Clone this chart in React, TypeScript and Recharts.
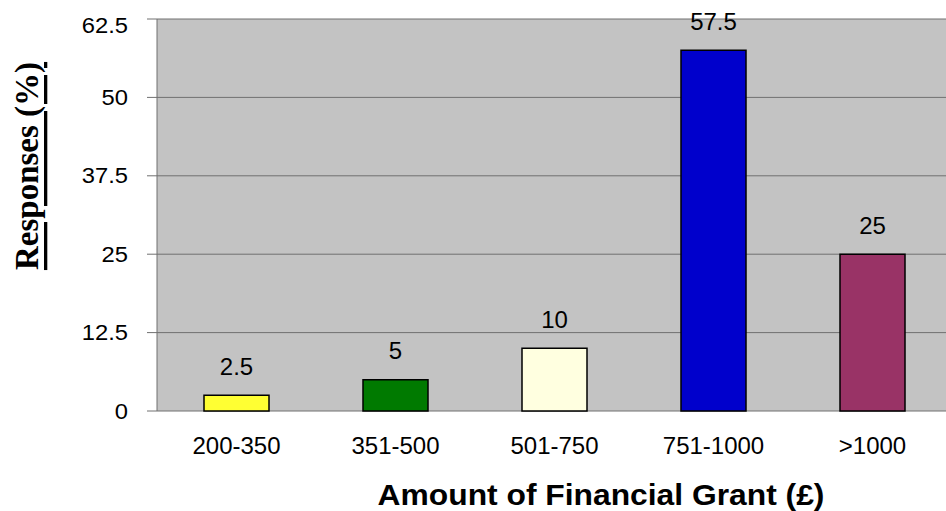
import React from "react";
import { BarChart, Bar, XAxis, YAxis, CartesianGrid, Cell, LabelList, Label } from "recharts";

const categories = ["200-350", "351-500", "501-750", "751-1000", ">1000"];
const responses = [2.5, 5, 10, 57.5, 25];
const barColors = ["#FFFF33", "#007A00", "#FFFFE0", "#0000CC", "#993366"];
const yTicks = [0, 12.5, 25, 37.5, 50, 62.5];
const bandEdges = [0, 1, 2, 3, 4, 5];

const data = categories.map((c, i) => ({ name: c, value: responses[i], idx: i + 0.5 }));

const FONT = "'Liberation Sans', Arial, sans-serif";

const YTick = ({ x, y, payload }: any) => (
  <text
    transform={`translate(${x},${y + (payload.value === 62.5 ? 6 : 0)}) scale(1.08,1)`}
    textAnchor="end"
    dominantBaseline="central"
    fontFamily={FONT}
    fontSize={22}
    fill="#000"
  >
    {payload.value}
  </text>
);

const XTick = ({ x, y, payload }: any) => (
  <text
    x={x}
    y={y + 34}
    textAnchor="middle"
    dominantBaseline="central"
    fontFamily={FONT}
    fontSize={24}
    fill="#000"
  >
    {payload.value}
  </text>
);

const ValueLabel = ({ x, y, width, value }: any) => (
  <text
    x={x + width / 2}
    y={y - 29}
    textAnchor="middle"
    dominantBaseline="central"
    fontFamily={FONT}
    fontSize={24}
    fill="#000"
  >
    {value}
  </text>
);

export default function App() {
  return (
    <div
      style={{
        position: "absolute",
        left: 0,
        top: 0,
        width: 946,
        height: 511,
        overflow: "hidden",
        background: "#fff",
      }}
    >
      <BarChart width={952} height={511} data={data} margin={{ top: 19, right: 0, left: 0, bottom: 0 }}>
        <CartesianGrid vertical={false} stroke="#707070" fill="#C3C3C3" fillOpacity={1} />
        <XAxis
          xAxisId="edges"
          type="number"
          dataKey="idx"
          domain={[0, 5]}
          ticks={bandEdges}
          height={0}
          tick={false}
          tickSize={6}
          axisLine={{ stroke: "#707070" }}
          tickLine={{ stroke: "#707070" }}
        />
        <XAxis
          dataKey="name"
          height={100}
          axisLine={false}
          tickLine={false}
          tickSize={0}
          tickMargin={0}
          tick={<XTick />}
          interval={0}
        >
          <Label
            content={() => (
              <text
                transform="translate(601,495) scale(1.06,1)"
                textAnchor="middle"
                dominantBaseline="central"
                fontFamily={FONT}
                fontWeight="bold"
                fontSize={30}
                fill="#000"
              >
                Amount of Financial Grant (£)
              </text>
            )}
          />
        </XAxis>
        <YAxis
          width={157}
          domain={[0, 62.5]}
          ticks={yTicks}
          interval={0}
          tickSize={10}
          tickMargin={19}
          axisLine={{ stroke: "#707070" }}
          tickLine={{ stroke: "#707070" }}
          tick={<YTick />}
        >
          <Label
            content={() => (
              <text
                transform="translate(27,166) rotate(-90)"
                textAnchor="middle"
                dominantBaseline="central"
                fontFamily="'Liberation Serif', 'Times New Roman', serif"
                fontWeight="bold"
                fontSize={33}
                textDecoration="underline"
                fill="#000"
              >
                Responses (%)
              </text>
            )}
          />
        </YAxis>
        <Bar dataKey="value" barSize={65} stroke="#000" strokeWidth={1.5} isAnimationActive={false}>
          {data.map((d, i) => (
            <Cell key={d.name} fill={barColors[i]} />
          ))}
          <LabelList dataKey="value" content={<ValueLabel />} />
        </Bar>
      </BarChart>
    </div>
  );
}
